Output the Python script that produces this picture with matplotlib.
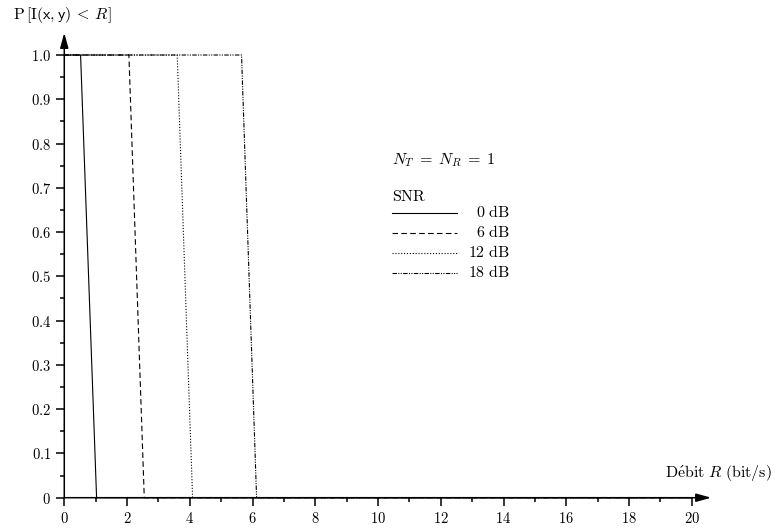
import matplotlib
matplotlib.use('Agg')
import matplotlib.pyplot as plt

plt.rcParams['mathtext.fontset'] = 'cm'
plt.rcParams['font.family'] = 'serif'

# outage probability vs rate
snr_labels = ['0 dB', '6 dB', '12 dB', '18 dB']
rate_0db = [0.0, 0.52, 1.03, 20.0]
rate_6db = [0.0, 2.06, 2.55, 20.0]
rate_12db = [0.0, 3.60, 4.09, 20.0]
rate_18db = [0.0, 5.65, 6.13, 20.0]
prob = [1.0, 1.0, 0.0, 0.0]

x_ticks = [0, 2, 4, 6, 8, 10, 12, 14, 16, 18, 20]
y_ticks = [0, 0.1, 0.2, 0.3, 0.4, 0.5, 0.6, 0.7, 0.8, 0.9, 1.0]
y_tick_labels = ['0', '0.1', '0.2', '0.3', '0.4', '0.5', '0.6', '0.7', '0.8', '0.9', '1.0']

_STYLES = ['-', (0, (5, 3)), (0, (1, 1.6)), (0, (4, 1.2, 1, 1.2, 1, 1.2))]

fig = plt.figure(figsize=(7.79, 5.31), dpi=100)
ax = fig.add_axes([0.0825, 0.0627, 0.8055, 0.8337])

series = [rate_0db, rate_6db, rate_12db, rate_18db]
for rates, ls in zip(series, _STYLES):
    ax.plot(rates, prob, color='black', linewidth=0.8, linestyle=ls, clip_on=False)

ax.set_xlim(0, 20)
ax.set_ylim(0, 1)

for s in ax.spines.values():
    s.set_visible(False)

# axes with arrow heads
arrow = dict(arrowstyle='-|>,head_length=0.9,head_width=0.25', color='black',
             linewidth=1.1, shrinkA=0, shrinkB=0)
ax.annotate('', xy=(1.031, 0), xytext=(0, 0), xycoords='axes fraction',
            arrowprops=arrow)
ax.annotate('', xy=(0, 1.05), xytext=(0, 0), xycoords='axes fraction',
            arrowprops=arrow)

ax.set_xticks(x_ticks)
ax.set_xticklabels(['$%d$' % v for v in x_ticks])
ax.set_xticks(range(1, 20, 2), minor=True)
ax.set_yticks(y_ticks)
ax.set_yticklabels(['$%s$' % t for t in y_tick_labels])
ax.set_yticks([0.05 + 0.1 * i for i in range(10)], minor=True)
ax.tick_params(which='major', length=5.5, width=1.1, labelsize=10.5, direction='out', pad=4)
ax.tick_params(which='minor', length=2.8, width=1.1, direction='out')

fig.text(13 / 779, 1 - 15 / 531,
         r'$\mathrm{P}\,[\mathrm{I}(\mathsf{x},\mathsf{y})\:<\:R]$',
         fontsize=11.5, ha='left', va='center')
fig.text(772 / 779, 1 - 473 / 531, r'$\mathrm{D\acute{e}bit}\ R\ \mathrm{(bit/s)}$',
         fontsize=11.5, ha='right', va='center')

# legend drawn by hand, as in the original
ax.text(10.45, 0.763, r'$N_T\;=\;N_R\;=\;1$', fontsize=11.5, ha='left', va='center')
ax.text(10.45, 0.680, r'$\mathrm{SNR}$', fontsize=11.5, ha='left', va='center')
legend_y = [0.644, 0.598, 0.553, 0.508]
for lab, ls, yy in zip(snr_labels, _STYLES, legend_y):
    ax.plot([10.45, 12.52], [yy, yy], color='black', linewidth=0.8, linestyle=ls)
    ax.text(14.2, yy, '$\\mathrm{%s}$' % lab.replace(' ', '\\ '), fontsize=11.5,
            ha='right', va='center')

fig.savefig('out.png', dpi=100)
plt.close(fig)
